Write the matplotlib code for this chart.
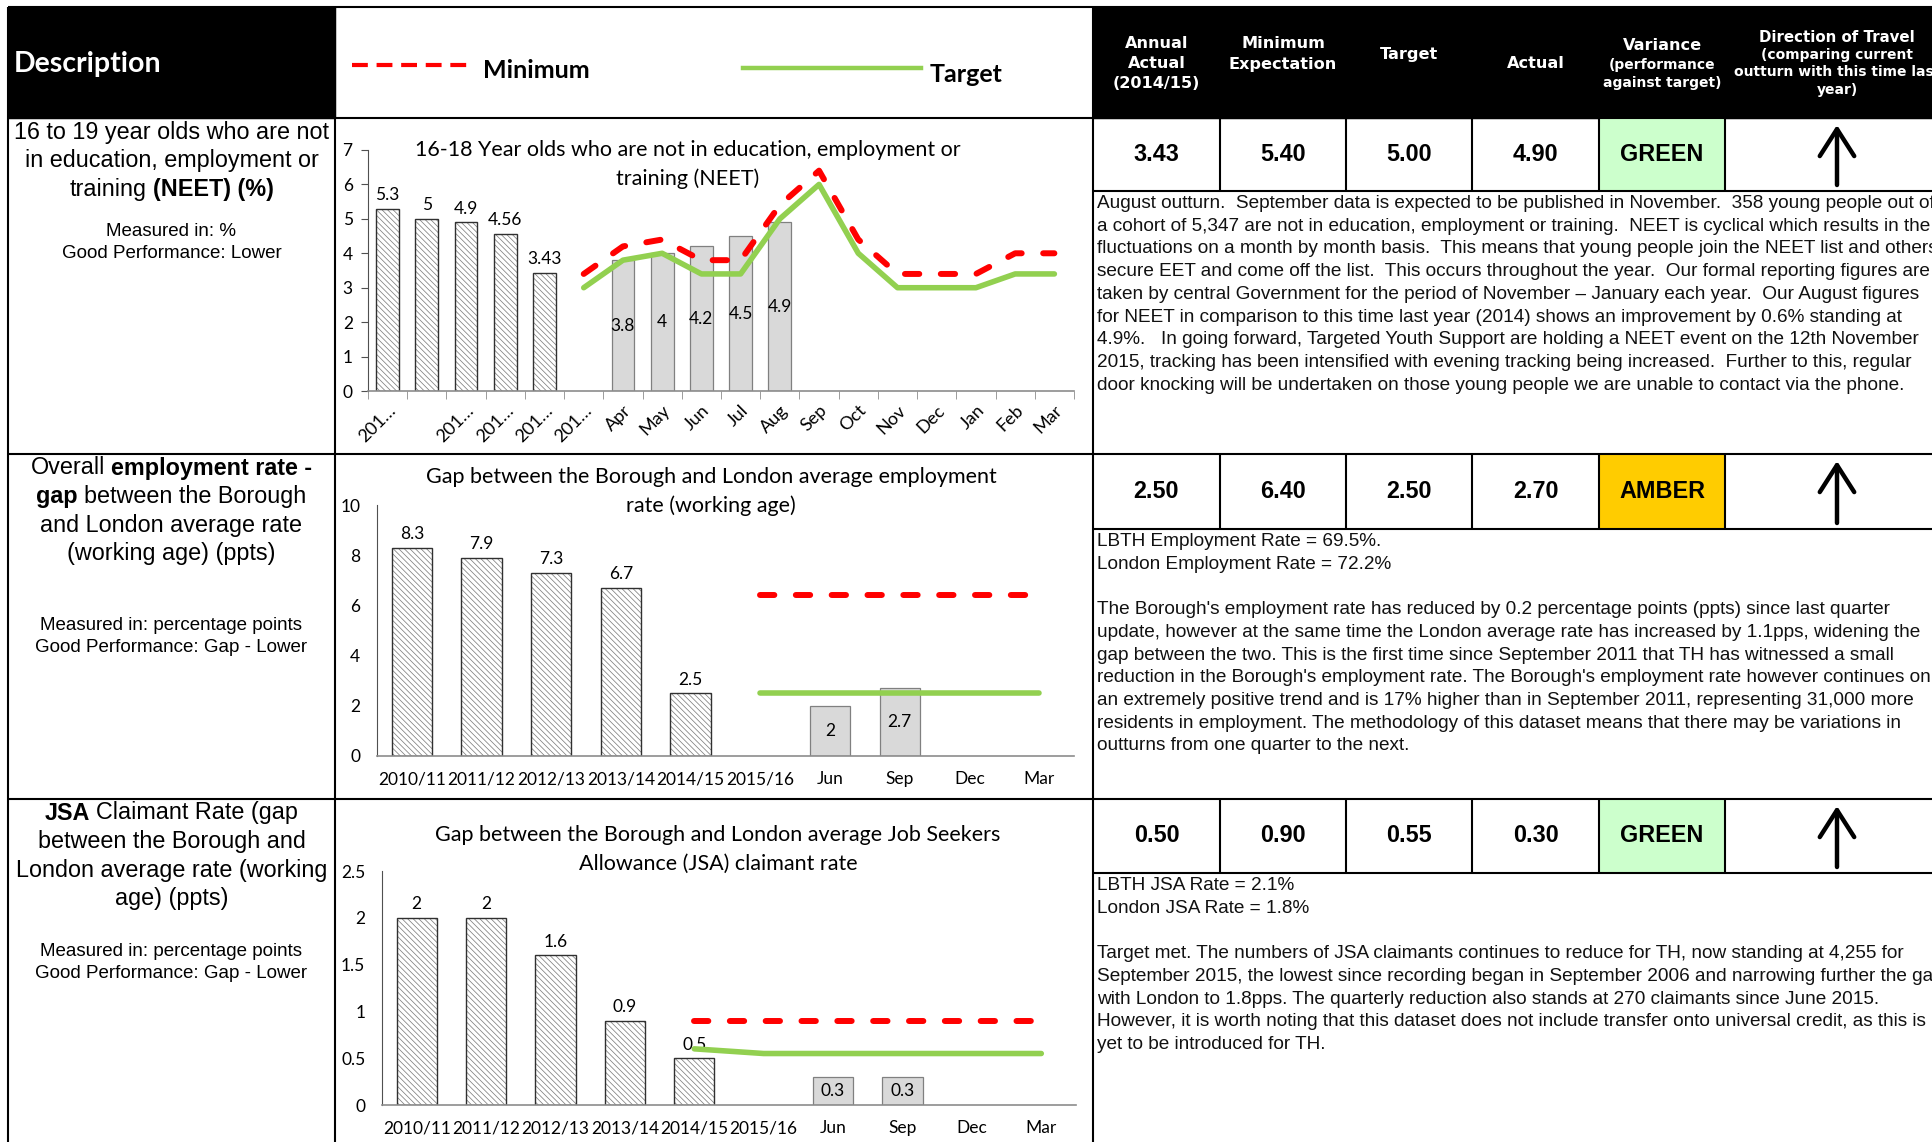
import numpy as np
import matplotlib
matplotlib.use('Agg')
import matplotlib.pyplot as plt
from matplotlib.patches import Rectangle

W, H = 1932, 1142

# ---- chart data ----
neet_cats = ['201…', '', '201…', '201…', '201…', '201…', 'Apr', 'May', 'Jun', 'Jul',
             'Aug', 'Sep', 'Oct', 'Nov', 'Dec', 'Jan', 'Feb', 'Mar']
neet_annual = [5.3, 5, 4.9, 4.56, 3.43]
neet_months = ['Apr', 'May', 'Jun', 'Jul', 'Aug']
neet_recent = [3.8, 4, 4.2, 4.5, 4.9]
neet_min = [3.4, 4.2, 4.4, 3.8, 3.8, 5.4, 6.4, 4.4, 3.4, 3.4, 3.4, 4.0, 4.0]
neet_target = [3.0, 3.8, 4.0, 3.4, 3.4, 5.0, 6.0, 4.0, 3.0, 3.0, 3.0, 3.4, 3.4]

gap_cats = ['2010/11', '2011/12', '2012/13', '2013/14', '2014/15', '2015/16', 'Jun', 'Sep', 'Dec', 'Mar']
emp_annual = [8.3, 7.9, 7.3, 6.7, 2.5]
emp_months = ['Jun', 'Sep']
emp_recent = [2, 2.7]
emp_min = [6.4, 6.4, 6.4, 6.4, 6.4]
emp_target = [2.5, 2.5, 2.5, 2.5, 2.5]

jsa_annual = [2, 2, 1.6, 0.9, 0.5]
jsa_months = ['Jun', 'Sep']
jsa_recent = [0.3, 0.3]
jsa_min = [0.9, 0.9, 0.9, 0.9, 0.9, 0.9]
jsa_target = [0.6, 0.55, 0.55, 0.55, 0.55, 0.55]

# ---- table values ----
annual_actual = [3.43, 2.50, 0.50]
min_expectation = [5.40, 6.40, 0.90]
target_vals = [5.00, 2.50, 0.55]
actual_vals = [4.90, 2.70, 0.30]
variance = ['GREEN', 'AMBER', 'GREEN']
variance_colors = {'GREEN': '#ccffcc', 'AMBER': '#ffcc00'}

ARIAL = 'Liberation Sans'
CAL = 'Lato'
TAH = 'DejaVu Sans'

plt.rcParams['hatch.linewidth'] = 0.55

fig = plt.figure(figsize=(W / 100, H / 100), dpi=100)
bg = fig.add_axes([0, 0, 1, 1])
bg.set_xlim(0, W)
bg.set_ylim(H, 0)
bg.axis('off')
renderer = fig.canvas.get_renderer()

# ---- table frame ----
col_x = [1093, 1220, 1346, 1472, 1599, 1725]
row_top = [118, 454, 799]
val_bot = [191, 529, 873]

bg.add_patch(Rectangle((8, 7), 327, 111, color='black'))
bg.add_patch(Rectangle((1093, 7), W - 1093, 111, color='black'))
for i, v in enumerate(variance):
    bg.add_patch(Rectangle((1599, row_top[i]), 126, val_bot[i] - row_top[i],
                           color=variance_colors[v], lw=0))

lk = dict(color='black', lw=1.5, solid_capstyle='butt')
bg.plot([8, W], [7, 7], **lk)
for y in [118] + row_top[1:]:
    bg.plot([8, W], [y, y], **lk)
for x in [8, 335, 1093]:
    bg.plot([x, x], [7, H], **lk)
for i in range(3):
    bg.plot([1093, W], [val_bot[i], val_bot[i]], **lk)
    for x in col_x[1:]:
        bg.plot([x, x], [row_top[i], val_bot[i]], **lk)

# ---- header ----
bg.text(14, 64, 'Description', color='white', fontsize=20.5, fontweight='bold', family=CAL,
        ha='left', va='center')
bg.plot([352, 472], [65, 65], color='#ff0000', lw=3, dashes=(3.8, 2.1))
bg.text(483, 70, 'Minimum', fontsize=18, fontweight='bold', family=CAL, ha='left', va='center')
bg.plot([743, 921], [68, 68], color='#92d050', lw=3.2)
bg.text(930, 75, 'Target', fontsize=18, fontweight='bold', family=CAL, ha='left', va='center')

hk = dict(color='white', fontweight='bold', family=TAH, ha='center', va='center')
for txt, yy in zip(['Annual', 'Actual', '(2014/15)'], [43, 63.5, 84]):
    bg.text(1156.5, yy, txt, fontsize=11.6, **hk)
for txt, yy in zip(['Minimum', 'Expectation'], [43, 64]):
    bg.text(1283, yy, txt, fontsize=11.6, **hk)
bg.text(1409, 54, 'Target', fontsize=11.6, **hk)
bg.text(1535.5, 64, 'Actual', fontsize=11.6, **hk)
bg.text(1662, 46, 'Variance', fontsize=11.6, **hk)
for txt, yy in zip(['(performance', 'against target)'], [65, 82.5]):
    bg.text(1662, yy, txt, fontsize=10, **hk)
bg.text(1837, 37, 'Direction of Travel', fontsize=10.8, **hk)
for txt, yy in zip(['(comparing current', 'outturn with this time last', 'year)'], [55.5, 72, 90]):
    bg.text(1837, yy, txt, fontsize=10, **hk)


# ---- description column ----
def space_w(size):
    a = bg.text(0, 0, 'x x', fontsize=size, family=ARIAL)
    b = bg.text(0, 0, 'xx', fontsize=size, family=ARIAL)
    w = a.get_window_extent(renderer).width - b.get_window_extent(renderer).width
    a.remove()
    b.remove()
    return w


def rich_line(xc, y, segs, size):
    parts = [bg.text(0, y, s, fontsize=size, family=ARIAL, fontweight='bold' if b else 'normal',
                     ha='left', va='center') for s, b in segs]
    sp = space_w(size)
    widths = [p.get_window_extent(renderer).width for p in parts]
    x = xc - (sum(widths) + sp * (len(parts) - 1)) / 2
    for p, w in zip(parts, widths):
        p.set_x(x)
        x += w + sp


desc = [
    [[('16 to 19 year olds who are not', False)],
     [('in education, employment or', False)],
     [('training', False), ('(NEET) (%)', True)]],
    [[('Overall', False), ('employment rate -', True)],
     [('gap', True), ('between the Borough', False)],
     [('and London average rate', False)],
     [('(working age) (ppts)', False)]],
    [[('JSA', True), ('Claimant Rate (gap', False)],
     [('between the Borough and', False)],
     [('London average rate (working', False)],
     [('age) (ppts)', False)]],
]
measured = [['Measured in: %', 'Good Performance: Lower'],
            ['Measured in: percentage points', 'Good Performance: Gap - Lower'],
            ['Measured in: percentage points', 'Good Performance: Gap - Lower']]
measured_y = [231.5, 626, 951]
for i in range(3):
    for j, segs in enumerate(desc[i]):
        rich_line(171.5, row_top[i] + 14 + 28.6 * j, segs, 16.8)
    for j, txt in enumerate(measured[i]):
        bg.text(171.5, measured_y[i] + 22 * j, txt, fontsize=13.5, family=ARIAL, ha='center', va='center')

# ---- values row ----
vk = dict(fontsize=16.8, fontweight='bold', family=ARIAL, ha='center', va='center')
for i in range(3):
    yc = (row_top[i] + val_bot[i]) / 2
    for k, v in enumerate([annual_actual[i], min_expectation[i], target_vals[i], actual_vals[i]]):
        bg.text((col_x[k] + col_x[k + 1]) / 2, yc, f'{v:.2f}', **vk)
    bg.text(1662, yc, variance[i], **vk)
    bg.annotate('', xy=(1837, row_top[i] + 7), xytext=(1837, val_bot[i] - 6),
                arrowprops=dict(arrowstyle='->,head_length=0.97,head_width=0.62', lw=3.2,
                                color='black', mutation_scale=20, shrinkA=0, shrinkB=0))

# ---- commentary ----
notes = [
    ['August outturn.  September data is expected to be published in November.  358 young people out of',
     'a cohort of 5,347 are not in education, employment or training.  NEET is cyclical which results in the',
     'fluctuations on a month by month basis.  This means that young people join the NEET list and others',
     'secure EET and come off the list.  This occurs throughout the year.  Our formal reporting figures are',
     'taken by central Government for the period of November – January each year.  Our August figures',
     'for NEET in comparison to this time last year (2014) shows an improvement by 0.6% standing at',
     '4.9%.   In going forward, Targeted Youth Support are holding a NEET event on the 12th November',
     '2015, tracking has been intensified with evening tracking being increased.  Further to this, regular',
     'door knocking will be undertaken on those young people we are unable to contact via the phone.'],
    ['LBTH Employment Rate = 69.5%.',
     'London Employment Rate = 72.2%',
     '',
     "The Borough's employment rate has reduced by 0.2 percentage points (ppts) since last quarter",
     'update, however at the same time the London average rate has increased by 1.1pps, widening the',
     'gap between the two. This is the first time since September 2011 that TH has witnessed a small',
     "reduction in the Borough's employment rate. The Borough's employment rate however continues on",
     'an extremely positive trend and is 17% higher than in September 2011, representing 31,000 more',
     'residents in employment. The methodology of this dataset means that there may be variations in',
     'outturns from one quarter to the next.'],
    ['LBTH JSA Rate = 2.1%',
     'London JSA Rate = 1.8%',
     '',
     'Target met. The numbers of JSA claimants continues to reduce for TH, now standing at 4,255 for',
     'September 2015, the lowest since recording began in September 2006 and narrowing further the gap',
     'with London to 1.8pps. The quarterly reduction also stands at 270 claimants since June 2015.',
     'However, it is worth noting that this dataset does not include transfer onto universal credit, as this is',
     'yet to be introduced for TH.'],
]
for i in range(3):
    for j, line in enumerate(notes[i]):
        if line:
            bg.text(1097, val_bot[i] + 12.5 + 22.7 * j, line, fontsize=13.7, family=ARIAL,
                    ha='left', va='center', color='#111111')


# ---- charts ----
def fig_rect(l, t, r, b):
    return [l / W, 1 - b / H, (r - l) / W, (b - t) / H]


def draw_chart(rect, cats, annual, months, recent, minimum, target, yticks, rotate=False):
    ax = fig.add_axes(rect)
    ax.patch.set_alpha(0)
    n = len(cats)
    xs = np.arange(n)
    xa = xs[:len(annual)]
    xr = [cats.index(m) for m in months]
    bw = 0.58
    ax.bar(xa, annual, width=bw, color='white', edgecolor='#808080', hatch='\\' * 6, lw=0)
    hb = ax.bar(xa, annual, width=bw, fill=False, edgecolor='#303030', lw=1)
    ax.bar_label(hb, fmt='%g', padding=4, fontsize=12.5, family=CAL)
    gb = ax.bar(xr, recent, width=bw, color='#d9d9d9', edgecolor='#808080', lw=0.9)
    ax.bar_label(gb, fmt='%g', label_type='center', fontsize=12.5, family=CAL)
    ax.plot(xs[n - len(minimum):], minimum, color='#ff0000', lw=4.3, dashes=(2.4, 3.6),
            dash_capstyle='round', zorder=4)
    ax.plot(xs[n - len(target):], target, color='#92d050', lw=4, solid_capstyle='round',
            solid_joinstyle='round', zorder=4)
    ax.set_xlim(-0.5, n - 0.5)
    ax.set_ylim(yticks[0], yticks[-1])
    ax.set_yticks(yticks)
    ax.set_yticklabels([f'{t:g}' for t in yticks], family=CAL, fontsize=12.5)
    ax.set_xticks(xs)
    for s in ['top', 'right']:
        ax.spines[s].set_visible(False)
    ax.spines['left'].set_color('#505050')
    ax.spines['bottom'].set_color('#8c8c8c')
    ax.spines['bottom'].set_linewidth(1.2)
    if rotate:
        ax.set_xticklabels(cats, rotation=45, ha='right', rotation_mode='anchor', family=CAL, fontsize=13)
        ax.tick_params(axis='x', length=0, pad=8)
        ax.set_xticks(np.arange(n + 1) - 0.5, minor=True)
        ax.tick_params(axis='x', which='minor', length=6, color='#8c8c8c')
        ax.tick_params(axis='y', length=5, color='#505050', pad=6)
    else:
        ax.set_xticklabels(cats, family=CAL, fontsize=12.5)
        ax.tick_params(axis='x', length=0, pad=11)
        ax.tick_params(axis='y', length=0, pad=12)
    return ax


draw_chart(fig_rect(368, 150, 1074, 391), neet_cats, neet_annual, neet_months, neet_recent,
           neet_min, neet_target, list(range(0, 8)), rotate=True)
draw_chart(fig_rect(377, 505, 1074, 756), gap_cats, emp_annual, emp_months, emp_recent,
           emp_min, emp_target, list(range(0, 12, 2)))
draw_chart(fig_rect(382, 871, 1076, 1105), gap_cats, jsa_annual, jsa_months, jsa_recent,
           jsa_min, jsa_target, [0, 0.5, 1, 1.5, 2, 2.5])

titles = [(688, 150, '16-18 Year olds who are not in education, employment or', 'training (NEET)'),
          (711, 477, 'Gap between the Borough and London average employment', 'rate (working age)'),
          (718, 835, 'Gap between the Borough and London average Job Seekers', 'Allowance (JSA) claimant rate')]
for xc, yt, l1, l2 in titles:
    bg.text(xc, yt, l1, fontsize=15.5, family=CAL, ha='center', va='center')
    bg.text(xc, yt + 29, l2, fontsize=15.5, family=CAL, ha='center', va='center')

fig.savefig('out.png', dpi=100)
